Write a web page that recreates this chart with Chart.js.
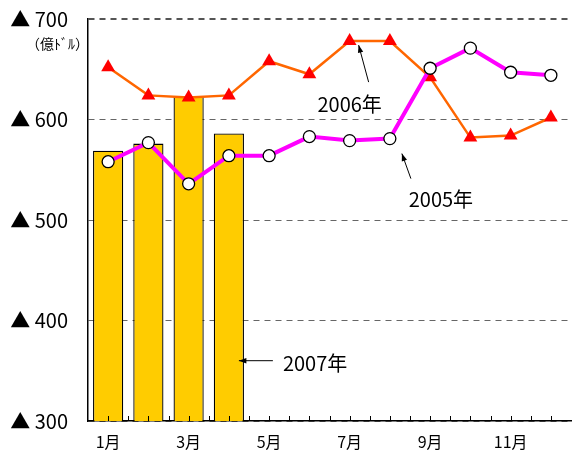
<!DOCTYPE html>
<html lang="ja">
<head>
<meta charset="utf-8">
<script src="https://cdn.jsdelivr.net/npm/chart.js@4.4.1/dist/chart.umd.min.js"></script>
<style>
  html, body { margin: 0; padding: 0; background: #fff; }
  #wrap { width: 572px; height: 459px; position: relative; }
</style>
</head>
<body>
<div id="wrap"><canvas id="myChart"></canvas></div>
<script>
// データ（億ドル、▲は赤字）
const months = ["1月", "2月", "3月", "4月", "5月", "6月", "7月", "8月", "9月", "10月", "11月", "12月"];
const yTicks = [300, 400, 500, 600, 700];
const y2007 = [569, 576, 623, 586, null, null, null, null, null, null, null, null];
const y2006 = [652, 624, 622, 624, 658, 645, 678, 678, 642, 582, 584, 602];
const y2005 = [558, 577, 536, 564, 564, 583, 579, 581, 651, 671, 647, 644];
const unitLabel = "（億ﾄﾞﾙ）";

const FONT = "'Noto Sans CJK JP', 'Noto Sans', sans-serif";
const ctx = document.getElementById("myChart");

// 注記（矢印＋ラベル）
const notes = [
  { text: "2006年", data: y2006, index: 6, tip: [9, 4], tail: [19, 41], label: [0, 63], align: "center" },
  { text: "2005年", data: y2005, index: 7, tip: [12, 15], tail: [21, 40], label: [51, 61], align: "center" },
  { text: "2007年", data: y2007, index: 3, tip: [10, null], tail: [44, null], label: [54, null], align: "left" }
];

function drawArrow(c, x1, y1, x2, y2) {
  const ang = Math.atan2(y2 - y1, x2 - x1);
  c.beginPath();
  c.moveTo(x1, y1);
  c.lineTo(x2, y2);
  c.stroke();
  c.beginPath();
  c.moveTo(x2, y2);
  c.lineTo(x2 - 8 * Math.cos(ang - 0.35), y2 - 8 * Math.sin(ang - 0.35));
  c.lineTo(x2 - 8 * Math.cos(ang + 0.35), y2 - 8 * Math.sin(ang + 0.35));
  c.closePath();
  c.fill();
}

const extras = {
  id: "extras",
  afterDatasetsDraw(chart) {
    const c = chart.ctx;
    const xs = chart.scales.x;
    const ys = chart.scales.y;
    const area = chart.chartArea;
    c.save();

    // 下軸の内向き目盛（半月おき）
    c.strokeStyle = "#000";
    c.lineWidth = 1;
    const step = (xs.getPixelForTick(1) - xs.getPixelForTick(0)) / 2;
    for (let x = area.left + step; x < area.right - 1; x += step) {
      c.beginPath();
      c.moveTo(Math.round(x) + 0.5, area.bottom);
      c.lineTo(Math.round(x) + 0.5, area.bottom - 5);
      c.stroke();
    }

    // 単位
    c.fillStyle = "#000";
    c.font = "14px " + FONT;
    c.textAlign = "right";
    c.textBaseline = "middle";
    c.fillText(unitLabel, area.left + 1, ys.getPixelForValue(700) + 25);

    // 注記
    c.font = "20px " + FONT;
    c.lineWidth = 1;
    notes.forEach((n) => {
      const px = xs.getPixelForValue(n.index);
      let py = ys.getPixelForValue(n.data[n.index]);
      if (n.tip[1] === null) {
        // 棒グラフ用：水平矢印
        const ay = ys.getPixelForValue(360);
        drawArrow(c, px + n.tail[0], ay, px + n.tip[0], ay);
        c.textAlign = n.align;
        c.fillText(n.text, px + n.label[0], ay + 3);
      } else {
        drawArrow(c, px + n.tail[0], py + n.tail[1], px + n.tip[0], py + n.tip[1]);
        c.textAlign = n.align;
        c.fillText(n.text, px + n.label[0], py + n.label[1]);
      }
    });
    c.restore();
  }
};

new Chart(ctx, {
  type: "bar",
  data: {
    labels: months,
    datasets: [
      {
        type: "line",
        label: "2005年",
        data: y2005,
        borderColor: "#ff00ff",
        borderWidth: 4,
        pointStyle: "circle",
        pointRadius: 6,
        pointBackgroundColor: "#fff",
        pointBorderColor: "#000",
        pointBorderWidth: 1.3,
        tension: 0,
        order: 1
      },
      {
        type: "line",
        label: "2006年",
        data: y2006,
        borderColor: "#ff6600",
        borderWidth: 2.5,
        pointStyle: "triangle",
        pointRadius: 8,
        pointBackgroundColor: "#ff0000",
        pointBorderColor: "#ff0000",
        pointBorderWidth: 0,
        tension: 0,
        order: 2
      },
      {
        type: "bar",
        label: "2007年",
        data: y2007,
        backgroundColor: "#ffcc00",
        borderColor: "#000",
        borderWidth: 1.3,
        borderSkipped: false,
        categoryPercentage: 1,
        barPercentage: 0.75,
        order: 3
      }
    ]
  },
  options: {
    responsive: true,
    maintainAspectRatio: false,
    animation: false,
    layout: { autoPadding: false, padding: { top: 19, right: 1, left: 0, bottom: 0 } },
    plugins: {
      legend: { display: false },
      tooltip: { enabled: false }
    },
    scales: {
      x: {
        grid: { display: true, drawOnChartArea: false, drawTicks: true, tickLength: 11, tickColor: "rgba(0,0,0,0)" },
        border: { display: true, color: "#000", width: 1.5 },
        ticks: {
          autoSkip: false,
          maxRotation: 0,
          padding: 0,
          color: "#000",
          font: { family: FONT, size: 16 },
          callback: function (v, i) {
            return i % 2 === 0 ? months[i] : "";
          }
        },
        afterFit(scale) {
          scale.height = 38;
          scale.paddingLeft = 0;
          scale.paddingRight = 0;
        }
      },
      y: {
        min: 300,
        max: 700,
        afterBuildTicks(scale) {
          scale.ticks = yTicks.map((v) => ({ value: v }));
        },
        grid: {
          drawTicks: true,
          tickLength: 20,
          tickColor: "rgba(0,0,0,0)",
          color: (c) => (c.tick && c.tick.value === 700 ? "#555" : "#666"),
          lineWidth: (c) => (c.tick && c.tick.value === 700 ? 2 : 1)
        },
        border: { display: true, color: "#000", width: 1.5, dash: [6, 5] },
        ticks: {
          padding: 0,
          color: "#000",
          font: { family: FONT, size: 20 },
          callback: (v) => "▲ " + v
        },
        afterFit(scale) { scale.width = 88; }
      }
    }
  },
  plugins: [extras]
});
</script>
</body>
</html>
